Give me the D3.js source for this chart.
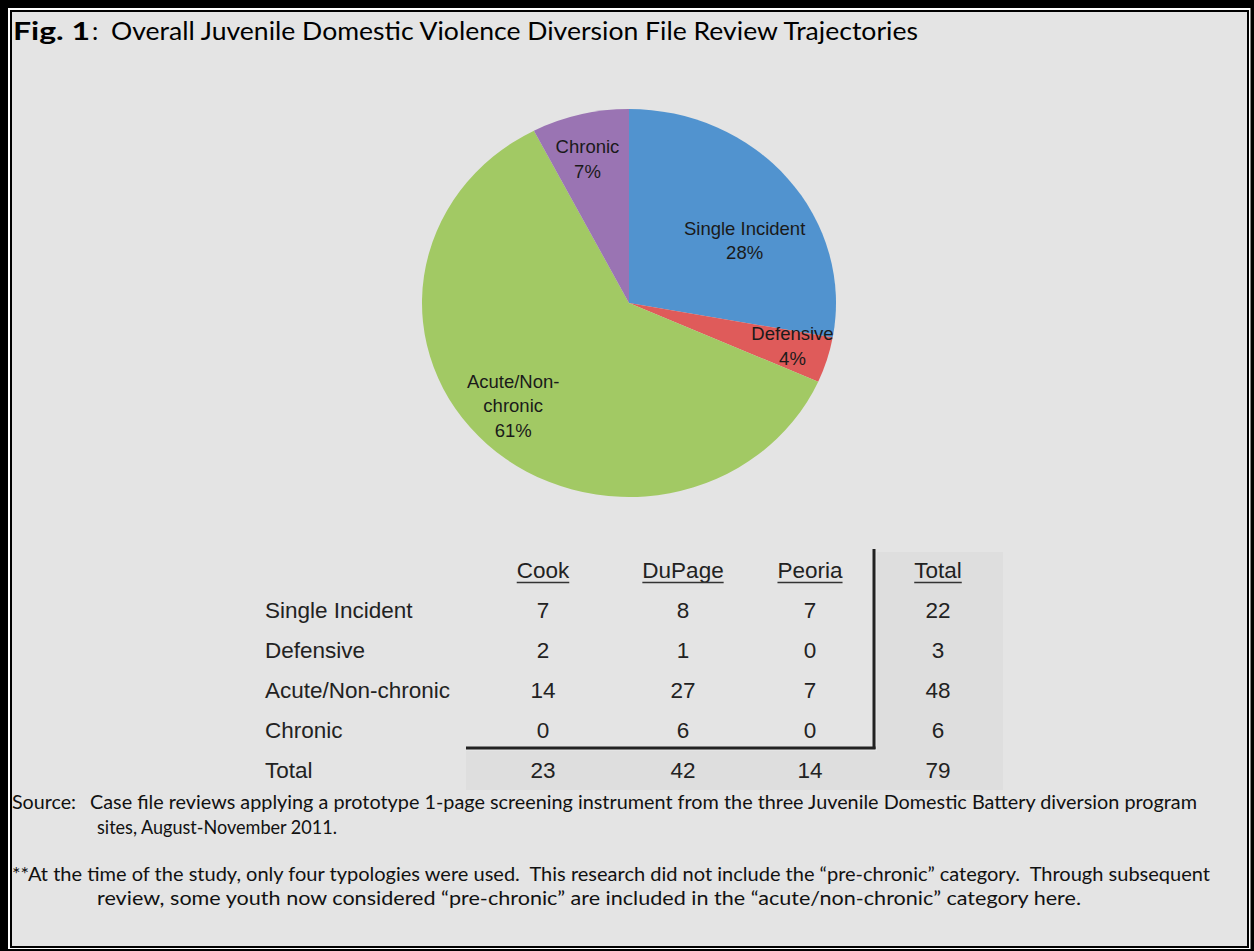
<!DOCTYPE html>
<html>
<head>
<meta charset="utf-8">
<script src="https://cdn.jsdelivr.net/npm/d3@7"></script>
<style>
  body { margin: 0; background: #000; }
  svg { display: block; }
  text { white-space: pre; }
</style>
</head>
<body>
<div id="chart"></div>
<script>
// data
var categories = ["Single Incident", "Defensive", "Acute/Non-chronic", "Chronic"];
var sites = ["Cook", "DuPage", "Peoria"];
var cook = [7, 2, 14, 0];
var dupage = [8, 1, 27, 6];
var peoria = [7, 0, 7, 0];
var pctLabels = ["28%", "4%", "61%", "7%"];
var sliceLabels = [["Single Incident"], ["Defensive"], ["Acute/Non-", "chronic"], ["Chronic"]];
var colors = ["#5193cf", "#df5b5a", "#a2c964", "#9a74b3"];

var title = "Overall Juvenile Domestic Violence Diversion File Review Trajectories";
var sourceText = "Case file reviews applying a prototype 1-page screening instrument from the three Juvenile Domestic Battery diversion program";
var sourceText2 = "sites, August-November 2011.";
var noteText = "**At the time of the study, only four typologies were used.  This research did not include the \u201cpre-chronic\u201d category.  Through subsequent";
var noteText2 = "review, some youth now considered \u201cpre-chronic\u201d are included in the \u201cacute/non-chronic\u201d category here.";

var bySite = [cook, dupage, peoria];
var totals = categories.map((c, i) => d3.sum(bySite, s => s[i]));
var siteTotals = bySite.map(s => d3.sum(s));
var grand = d3.sum(totals);

var width = 1254, height = 951;

var svg = d3.select("#chart").append("svg")
    .attr("width", width)
    .attr("height", height);

// frame
svg.append("rect").attr("width", width).attr("height", height).attr("fill", "#000");
svg.append("rect").attr("x", 8).attr("y", 8).attr("width", 1242.5).attr("height", 941).attr("fill", "#fff");
svg.append("rect").attr("x", 10).attr("y", 10).attr("width", 1239).attr("height", 938).attr("fill", "#000");
svg.append("rect").attr("x", 12).attr("y", 12).attr("width", 1235).attr("height", 934).attr("fill", "#e4e4e4");

// title
var calibri = "Lato, 'Noto Sans', sans-serif";
svg.append("text")
    .attr("x", 13).attr("y", 40)
    .attr("font-family", calibri).attr("font-size", 25).attr("font-weight", "bold")
    .attr("textLength", 77).attr("lengthAdjust", "spacingAndGlyphs")
    .text("Fig. 1");
svg.append("text")
    .attr("x", 92).attr("y", 40)
    .attr("font-family", calibri).attr("font-size", 25)
    .text(":");
svg.append("text")
    .attr("x", 111).attr("y", 40)
    .attr("font-family", calibri).attr("font-size", 25)
    .attr("textLength", 807).attr("lengthAdjust", "spacingAndGlyphs")
    .text(title);

// pie
var rx = 207, ry = 194;
var pie = d3.pie().sort(null).value(d => d)(totals);
var arc = d3.arc().innerRadius(0).outerRadius(ry);

var pieG = svg.append("g").attr("transform", `translate(629,303) scale(${rx / ry},1)`);
pieG.selectAll("path")
  .data(pie)
  .join("path")
  .attr("d", arc)
  .attr("fill", (d, i) => colors[i]);

// label placement in unit-ellipse coords: [angle deg, radius fraction]
var labelSpot = [[60, 0.645], [105.6, 0.82], [226.6, 0.77], [344.9, 0.77]];
var labG = svg.append("g")
    .attr("font-family", "'Liberation Sans', Arial, sans-serif")
    .attr("font-size", 18.5)
    .attr("fill", "#1a1a1a")
    .attr("text-anchor", "middle");

pie.forEach((d, i) => {
  var a = labelSpot[i][0] * Math.PI / 180, r = labelSpot[i][1];
  var cx = 629 + Math.sin(a) * r * rx;
  var cy = 303 - Math.cos(a) * r * ry;
  var lines = sliceLabels[i].concat([pctLabels[i]]);
  var lh = 24.5;
  var t = labG.append("text").attr("x", cx).attr("y", cy - (lines.length - 1) * lh / 2 + 6.5);
  lines.forEach((ln, k) => {
    t.append("tspan").attr("x", cx).attr("dy", k === 0 ? 0 : lh).text(ln);
  });
});

// table
var cols = sites.concat(["Total"]);
var rows = ["header"].concat(categories, ["Total"]);
var x = d3.scaleOrdinal().domain(cols).range([543, 683, 810, 938]);
var y = d3.scalePoint().domain(rows).range([570, 770]);

var tbl = svg.append("g")
    .attr("font-family", "'Liberation Sans', Arial, sans-serif")
    .attr("font-size", 22.5)
    .attr("fill", "#222");

// shading for total column and total row
tbl.append("rect").attr("x", 877).attr("y", 552).attr("width", 126).attr("height", 238).attr("fill", "#dedede");
tbl.append("rect").attr("x", 466).attr("y", 751).attr("width", 411).attr("height", 39).attr("fill", "#dedede");

// rules
tbl.append("line").attr("x1", 874).attr("x2", 874).attr("y1", 549).attr("y2", 749)
    .attr("stroke", "#222").attr("stroke-width", 3);
tbl.append("line").attr("x1", 466).attr("x2", 875.5).attr("y1", 748).attr("y2", 748)
    .attr("stroke", "#222").attr("stroke-width", 3);

// headers with underline
var hdr = tbl.selectAll(".hdr")
  .data(cols)
  .join("text")
  .attr("class", "hdr")
  .attr("x", d => x(d))
  .attr("y", y("header") + 8)
  .attr("text-anchor", "middle")
  .text(d => d);
hdr.each(function(d) {
  var w = this.getComputedTextLength();
  tbl.append("line")
    .attr("x1", x(d) - w / 2).attr("x2", x(d) + w / 2)
    .attr("y1", y("header") + 12.5).attr("y2", y("header") + 12.5)
    .attr("stroke", "#333").attr("stroke-width", 1.6);
});

// row labels
tbl.selectAll(".rl")
  .data(categories.concat(["Total"]))
  .join("text")
  .attr("class", "rl")
  .attr("x", 265)
  .attr("y", d => y(d) + 8)
  .text(d => d);

// cells
var cells = [];
categories.forEach((c, i) => {
  sites.forEach((s, j) => cells.push({ row: c, col: s, v: bySite[j][i] }));
  cells.push({ row: c, col: "Total", v: totals[i] });
});
sites.forEach((s, j) => cells.push({ row: "Total", col: s, v: siteTotals[j] }));
cells.push({ row: "Total", col: "Total", v: grand });

tbl.selectAll(".cell")
  .data(cells)
  .join("text")
  .attr("class", "cell")
  .attr("x", d => x(d.col))
  .attr("y", d => y(d.row) + 8)
  .attr("text-anchor", "middle")
  .text(d => d.v);

// notes
var notes = svg.append("g")
    .attr("font-family", calibri)
    .attr("font-size", 18.5)
    .attr("fill", "#111");
function note(str, x0, y0, len) {
  notes.append("text").attr("x", x0).attr("y", y0)
    .attr("textLength", len).attr("lengthAdjust", "spacingAndGlyphs")
    .text(str);
}
note("Source:", 12, 809, 64);
note(sourceText, 90, 809, 1107);
note(sourceText2, 97, 834, 240);
note(noteText, 12, 881, 1198);
note(noteText2, 97, 905, 984);
</script>
</body>
</html>
